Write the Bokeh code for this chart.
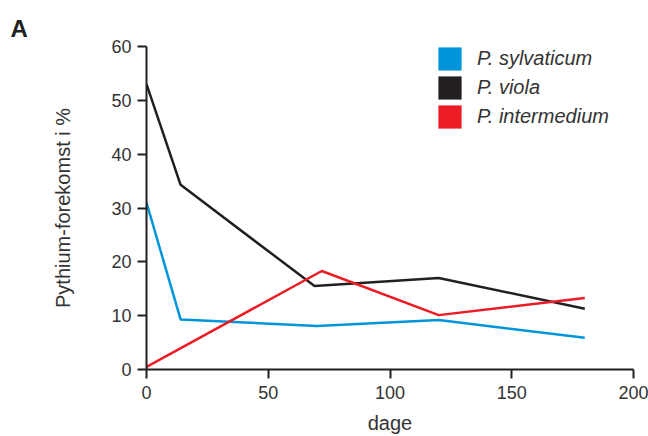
from bokeh.plotting import figure
from bokeh.models import Range1d, FixedTicker, Legend, LegendItem
from bokeh.embed import file_html
from bokeh.resources import INLINE

# Data
days_sylvaticum = [0, 14, 70, 120, 180]
sylvaticum = [31.0, 9.3, 8.1, 9.2, 5.9]

days_viola = [0, 14, 69, 120, 180]
viola = [53.0, 34.3, 15.5, 17.0, 11.3]

days_intermedium = [0, 72, 120, 180]
intermedium = [0.5, 18.3, 10.1, 13.3]

series_names = ["P. sylvaticum", "P. viola", "P. intermedium"]
series_colors = ["#0095da", "#231f20", "#ed1c24"]

x_ticks = [0, 50, 100, 150, 200]
y_ticks = [0, 10, 20, 30, 40, 50, 60]

TEXT = "#231f20"
FONT = "Liberation Sans"
W, H = 648, 436

p = figure(width=W, height=H, output_backend="svg", toolbar_location=None,
           x_range=Range1d(0, 200), y_range=Range1d(0, 60),
           min_border_left=146, min_border_right=15, min_border_top=46, min_border_bottom=67)
p.outline_line_color = None
p.xgrid.visible = False
p.ygrid.visible = False
p.background_fill_color = "white"
p.border_fill_color = "white"

# panel letter as title
p.title.text = "A"
p.title.align = "left"
p.title.offset = -136
p.title.text_font = FONT
p.title.text_font_size = "24px"
p.title.text_font_style = "bold"
p.title.text_color = TEXT
p.title.standoff = 10

for ax in (p.xaxis[0], p.yaxis[0]):
    ax.axis_line_color = TEXT
    ax.axis_line_width = 2
    ax.major_tick_line_color = TEXT
    ax.major_tick_line_width = 2
    ax.major_tick_out = 9
    ax.major_tick_in = 0
    ax.minor_tick_line_color = None
    ax.major_label_text_font = FONT
    ax.major_label_text_font_size = "18px"
    ax.major_label_text_color = "#333333"
    ax.axis_label_text_font = FONT
    ax.axis_label_text_font_size = "20px"
    ax.axis_label_text_font_style = "normal"
    ax.axis_label_text_color = "#333333"

p.xaxis[0].ticker = FixedTicker(ticks=x_ticks)
p.yaxis[0].ticker = FixedTicker(ticks=y_ticks)
p.xaxis[0].major_label_standoff = 7
p.yaxis[0].major_label_standoff = 6
p.xaxis[0].axis_label = "dage"
p.xaxis[0].axis_label_standoff = 10
p.yaxis[0].axis_label = "Pythium-forekomst i %"
p.yaxis[0].axis_label_standoff = 34

xs = [days_sylvaticum, days_viola, days_intermedium]
ys = [sylvaticum, viola, intermedium]
for x, y, c in zip(xs, ys, series_colors):
    p.line(x, y, line_color=c, line_width=2.5)

# legend swatches (renderers that draw nothing in the plot; used only for the legend)
nan = float("nan")
items = []
for name, c in zip(series_names, series_colors):
    r = p.rect(x=[nan], y=[nan], width=1, height=1, fill_color=c, line_color=None)
    items.append(LegendItem(label=name, renderers=[r]))

legend = Legend(items=items, location=(289, 238), orientation="vertical",
                glyph_width=29, glyph_height=29, spacing=0, padding=0, margin=0,
                label_standoff=13, label_text_font=FONT, label_text_font_size="20px",
                label_text_font_style="italic", label_text_color="#333333",
                border_line_color=None, background_fill_alpha=0)
p.add_layout(legend, "center")

open("out.html", "w").write(file_html(p, INLINE))
